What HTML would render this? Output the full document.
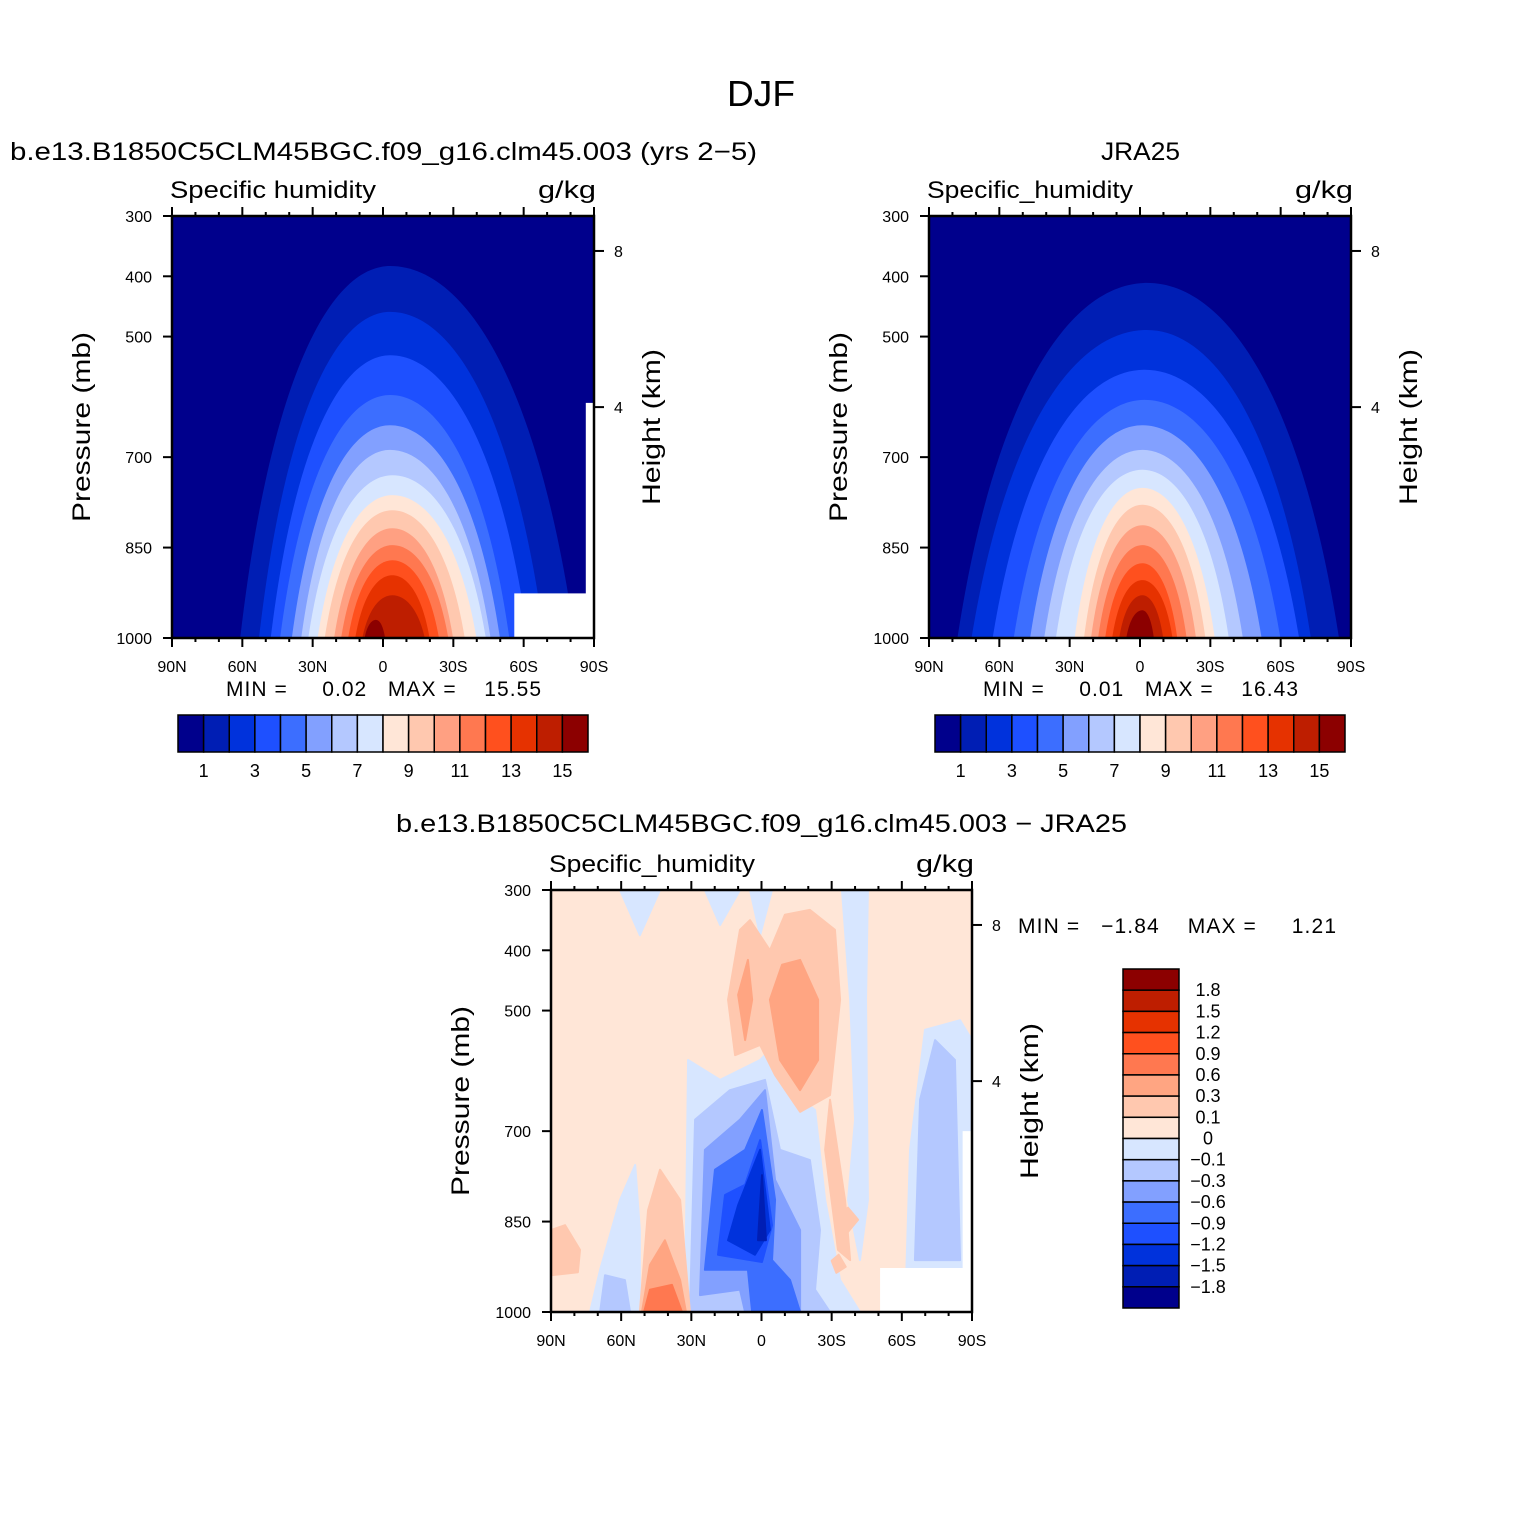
<!DOCTYPE html>
<html><head><meta charset="utf-8"><style>
html,body{margin:0;padding:0;background:#fff}
svg{display:block}
text{font-family:"Liberation Sans","DejaVu Sans",sans-serif;fill:#000}
</style></head><body>
<svg id="fig" width="1524" height="1524" viewBox="0 0 1524 1524" xmlns="http://www.w3.org/2000/svg">
<rect width="1524" height="1524" fill="#fff"/>
<text x="727" y="106" font-size="36" textLength="68" lengthAdjust="spacingAndGlyphs">DJF</text>
<text x="10" y="160" font-size="25" textLength="747" lengthAdjust="spacingAndGlyphs">b.e13.B1850C5CLM45BGC.f09_g16.clm45.003 (yrs 2−5)</text>
<text x="1101" y="160" font-size="25" textLength="79" lengthAdjust="spacingAndGlyphs">JRA25</text>
<text x="396" y="832" font-size="25" textLength="731" lengthAdjust="spacingAndGlyphs">b.e13.B1850C5CLM45BGC.f09_g16.clm45.003 − JRA25</text>
<g id="layer"></g>
</svg>
<script>
// ---- data ----
const qLevels = [1,2,3,4,5,6,7,8,9,10,11,12,13,14,15];
const qColors = ["#00008c","#001eb4","#0032dc","#1e50ff","#3c6eff","#82a0ff","#b4c8ff","#d7e6ff","#ffe6d7","#ffc8af","#ffa082","#ff7850","#ff501e","#e63200","#be1e00","#8c0000"];
const qTickLabels = ["1","3","5","7","9","11","13","15"];
// model: top pressure (mb), north-edge lat, south-edge lat, peak lat of each contour level
const modelTop  = [383,459,531,597,647,688,730,763,788,818,846,871,896,929,970];
const modelN    = [61,53,48,44,39,35,32,28,25,21,18,15,12,9,8];
const modelS    = [-82,-69,-62,-54,-50,-46,-44,-40,-35,-30,-28,-24,-20,-18,-1];
const modelPeak = [-3,-3,-3,-3,-3,-3,-4,-4,-4,-4,-4,-4,-4,-4,3];
const jraTop  = [411,489,555,605,647,688,721,751,779,813,846,876,904,929,954];
const jraN    = [78,72,63,54,47,41,36,28,24,21,18,15,12,9,6];
const jraS    = [-85,-73,-68,-60,-52,-44,-38,-32,-28,-24,-20,-16,-14,-10,-6];
const jraPeak = [-3,-3,-2,-2,-1,-1,-1,-1,-1,-1,-1,-1,-1,-1,-1];
const pTicks = [300,400,500,700,850,1000];
const latTicks = [90,60,30,0,-30,-60,-90];
const latLabels = ["90N","60N","30N","0","30S","60S","90S"];
const heightKm = ["8","4"];
const heightP = [358,617];
// difference field polygons [lat, p], with colour class index
const dLabels = ["1.8","1.5","1.2","0.9","0.6","0.3","0.1","0","−0.1","−0.3","−0.6","−0.9","−1.2","−1.5","−1.8"];
const dColors = ["#8c0000","#be1e00","#e63200","#ff501e","#ff7850","#ffa582","#ffc8af","#ffe6d7","#d7e6ff","#b4c8ff","#82a0ff","#3c6eff","#1e50ff","#0032dc","#001eb4","#00008c"];
const diffClass = [8,8,8,8,8,8,8,9,9,9,10,11,12,13,14,6,6,5,5,6,6,5,4,6,6];
const diffPolys = [
 [[32.7,1000],[31.4,582],[17.7,615],[0.6,582],[-5.8,557],[-12.2,632],[-22.9,665],[-27.2,814],[-33.6,947],[-42.1,1000]],
 [[73.3,1000],[69,930],[60.5,814],[54,756],[52,864],[52,1000]],
 [[60.5,300],[52,375],[43.4,300]],
 [[24.2,300],[17.7,358],[9.2,300]],
 [[4.9,300],[0.6,375],[-4.5,300]],
 [[-34.4,300],[-37.9,482],[-40,681],[-37,814],[-42.1,914],[-45.5,814],[-44.7,482],[-45.5,300]],
 [[-61.4,1000],[-63.5,731],[-69.9,532],[-84.9,516],[-90,549],[-90,1000]],
 [[30.6,1000],[28.4,681],[13.5,632],[-1.5,615],[-7.9,731],[-20.7,748],[-25,864],[-22.9,963],[-29.3,1000]],
 [[-65.6,914],[-67.8,648],[-74.2,549],[-82.7,582],[-84.9,914]],
 [[69,1000],[66.9,939],[58.4,947],[56.2,1000]],
 [[26.3,972],[24.2,731],[9.2,681],[-1.5,632],[-5.8,781],[-16.5,864],[-16.5,1000],[7,1000],[9.2,963]],
 [[24.2,930],[19.9,764],[7,731],[-0.2,665],[-5.8,814],[-4.5,914],[-12.2,947],[-16.5,1000],[4,1000],[5.8,930]],
 [[18.6,905],[15.6,806],[7,789],[0.6,715],[-4.5,856],[-0.2,917]],
 [[14.3,881],[10,823],[0.6,731],[-3.6,864],[2.8,905]],
 [[-0.2,773],[-1.9,881],[1.5,881]],
 [[9.2,366],[14.3,482],[11.3,574],[0.6,557],[-5.8,607],[-16.5,668],[-29.3,640],[-33.6,482],[-31.4,366],[-20.7,333],[-10,341],[-3.6,400],[4.9,350]],
 [[-29.3,648],[-35.7,814],[-37.9,914],[-32.7,897],[-27.2,731]],
 [[-3.6,482],[-8.8,424],[-16.5,416],[-24.2,482],[-24.2,582],[-16.5,632],[-7.9,582]],
 [[10,474],[7,549],[4,482],[5.8,416]],
 [[52,1000],[48.5,831],[43.4,764],[34.8,814],[30.6,1000]],
 [[90,864],[84,856],[77.6,897],[78.5,934],[90,939]],
 [[51.1,1000],[47.7,922],[41.3,881],[34.8,947],[32.3,1000]],
 [[50.2,1000],[47.7,963],[38.3,955],[34,1000]],
 [[-32.7,839],[-37,827],[-41.3,847],[-37,867]],
 [[-30,915],[-33,905],[-36,925],[-32,935]]
];
// missing-data boxes [latN, latS, pTop, pBottom]
const modelMissing = [[-56,-90,926,1000],[-86.5,-90,610,1000]];
const diffMissing = [[-50.7,-89,927,1000],[-86,-90,700,1000]];

// ---- drawing ----
const NS = "http://www.w3.org/2000/svg";
const layer = document.getElementById('layer');
function mk(tag, attrs, parent){const e=document.createElementNS(NS,tag);for(const k in attrs)e.setAttribute(k,attrs[k]);(parent||layer).appendChild(e);return e;}
function axes(P){return {X:lat=>P.x0+(90-lat)/180*P.w, Y:p=>P.y0+(p-300)/700*P.h};}

function panel(P, id, drawFill){
  const A = axes(P);
  const g = mk('g',{});
  
  
  const cp = mk('clipPath',{id:'clip-'+id},g);
  mk('rect',{x:P.x0,y:P.y0,width:P.w,height:P.h},cp);
  const fg = mk('g',{'clip-path':'url(#clip-'+id+')'},g);
  drawFill(fg, A);
  const frame = mk('rect',{x:P.x0,y:P.y0,width:P.w,height:P.h,fill:'none',stroke:'#000','stroke-width':2.5},g);
  
  
  for(let lat=90;lat>=-90;lat-=10){
    const x=A.X(lat), major=(lat%30===0);
    const L = major?9:4;
    mk('line',{x1:x,x2:x,y1:P.y0,y2:P.y0-L,stroke:'#000','stroke-width':2},g);
    mk('line',{x1:x,x2:x,y1:P.y0+P.h,y2:P.y0+P.h+L,stroke:'#000','stroke-width':2},g);
  }
  latTicks.forEach((lat,i)=>{
    const t=mk('text',{x:A.X(lat),y:P.y0+P.h+34,'font-size':16,'text-anchor':'middle'},g);
    t.textContent=latLabels[i];
    
    
  });
  pTicks.forEach(p=>{
    const y=A.Y(p);
    mk('line',{x1:P.x0,x2:P.x0-9,y1:y,y2:y,stroke:'#000','stroke-width':2},g);
    const t=mk('text',{x:P.x0-20,y:y+6,'font-size':16,'text-anchor':'end'},g);
    t.textContent=p;
    
    
  });
  heightP.forEach((p,i)=>{
    const y=A.Y(p);
    mk('line',{x1:P.x0+P.w,x2:P.x0+P.w+10,y1:y,y2:y,stroke:'#000','stroke-width':2},g);
    const t=mk('text',{x:P.x0+P.w+20,y:y+6,'font-size':16},g);
    t.textContent=heightKm[i];
    
    
  });
  const cy=P.y0+P.h/2;
  const yl=mk('text',{x:-95,y:0,'font-size':25,textLength:190,lengthAdjust:'spacingAndGlyphs',transform:`translate(${P.x0-82},${cy}) rotate(-90)`},g);
  yl.textContent='Pressure (mb)';
  
  
  const hl=mk('text',{x:-78,y:0,'font-size':25,textLength:156,lengthAdjust:'spacingAndGlyphs',transform:`translate(${P.x0+P.w+66},${cy}) rotate(-90)`},g);
  hl.textContent='Height (km)';
  
  
  const st=mk('text',{x:P.x0-2,y:P.y0-18,'font-size':24,textLength:206,lengthAdjust:'spacingAndGlyphs'},g);
  st.textContent=P.var;
  
  
  const un=mk('text',{x:P.x0+P.w-56,y:P.y0-18,'font-size':24,textLength:58,lengthAdjust:'spacingAndGlyphs'},g);
  un.textContent='g/kg';
  
  
  return A;
}

function mountains(tops,ns,ss,pk,missing){
  return function(fg,A){
    const bg=mk('rect',{x:A.X(90),y:A.Y(300),width:A.X(-90)-A.X(90),height:A.Y(1000)-A.Y(300),fill:qColors[0]},fg);
    
    
    tops.forEach((top,i)=>{
      const xn=A.X(ns[i]), xs=A.X(ss[i]), xp=A.X(pk[i]), yb=A.Y(1000)+2, yt=A.Y(top);
      const ym=yt+0.3*(yb-yt);
      const d=`M${xn},${yb} C${xn+0.2*(xp-xn)},${ym} ${xp-0.4*(xp-xn)},${yt} ${xp},${yt} C${xp+0.4*(xs-xp)},${yt} ${xs-0.2*(xs-xp)},${ym} ${xs},${yb} Z`;
      const e=mk('path',{d:d,fill:qColors[i+1]},fg);
      
      
    });
    (missing||[]).forEach(m=>{
      const r=mk('rect',{x:A.X(m[0]),y:A.Y(m[2]),width:A.X(m[1])-A.X(m[0]),height:A.Y(m[3])-A.Y(m[2])+3,fill:'#fff'},fg);
      
      
    });
  };
}

function hbar(x0,y0,w,h,name){
  const g=mk('g',{});
  
  
  const bw=w/qColors.length;
  qColors.forEach((c,i)=>mk('rect',{x:x0+i*bw,y:y0,width:bw,height:h,fill:c,stroke:'#000','stroke-width':1.5},g));
  qTickLabels.forEach((l,i)=>{
    const t=mk('text',{x:x0+(1+2*i)*bw,y:y0+h+25,'font-size':18,'text-anchor':'middle'},g);
    t.textContent=l;
    
    
  });
}
function minmax(x,y,len,text,name){
  const t=mk('text',{x:x,y:y,'font-size':21,textLength:len,lengthAdjust:'spacing'});
  t.setAttribute('style','white-space:pre');
  t.textContent=text;
  
  
}

panel({x0:172,y0:216,w:422,h:422,var:'Specific humidity'},'model',mountains(modelTop,modelN,modelS,modelPeak,modelMissing));
panel({x0:929,y0:216,w:422,h:422,var:'Specific_humidity'},'jra',mountains(jraTop,jraN,jraS,jraPeak,[]));
minmax(226,696,315,'MIN =     0.02   MAX =    15.55','model-min-max');
minmax(983,696,315,'MIN =     0.01   MAX =    16.43','jra-min-max');
hbar(178,715,410,37,'model-colorbar');
hbar(935,715,410,37,'jra-colorbar');

panel({x0:551,y0:890,w:421,h:422,var:'Specific_humidity'},'diff',function(fg,A){
  const bg=mk('rect',{x:A.X(90),y:A.Y(300),width:A.X(-90)-A.X(90),height:A.Y(1000)-A.Y(300),fill:dColors[7]},fg);
  
  
  diffPolys.forEach((poly,i)=>{
    const pts=poly.map(q=>A.X(q[0])+','+A.Y(q[1])).join(' ');
    const e=mk('polygon',{points:pts,fill:dColors[diffClass[i]],stroke:dColors[diffClass[i]],'stroke-width':2,'stroke-linejoin':'round'},fg);
    
    
  });
  diffMissing.forEach(m=>{
    const r=mk('rect',{x:A.X(m[0]),y:A.Y(m[2]),width:A.X(m[1])-A.X(m[0]),height:A.Y(m[3])-A.Y(m[2])+3,fill:'#fff'},fg);
    
    
  });
});
minmax(1018,933,318,'MIN =   −1.84    MAX =     1.21','diff-min-max');
(function(){
  const g=mk('g',{});
  
  
  const x0=1123,y0=969,w=56,h=339,bh=h/dColors.length;
  dColors.forEach((c,i)=>mk('rect',{x:x0,y:y0+i*bh,width:w,height:bh,fill:c,stroke:'#000','stroke-width':1.5},g));
  dLabels.forEach((l,i)=>{
    const t=mk('text',{x:1208,y:y0+(i+1)*bh+6,'font-size':18,'text-anchor':'middle'},g);
    t.textContent=l;
    
    
  });
})();
</script>
</body></html>
